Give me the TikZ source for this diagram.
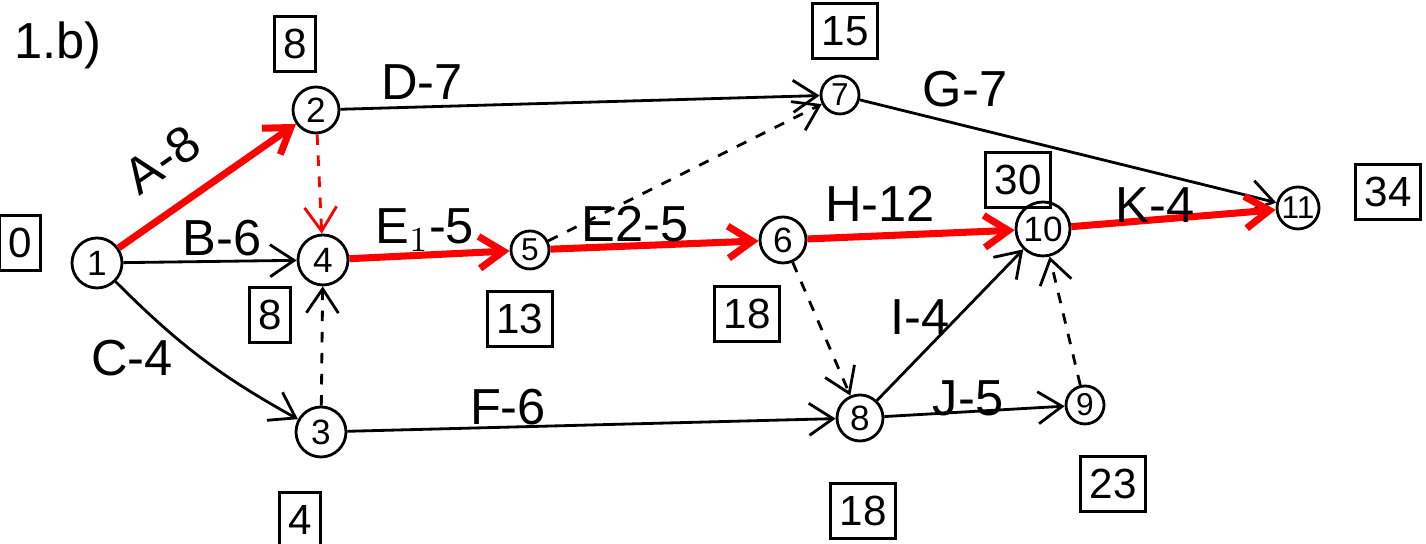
\documentclass[tikz,border=0pt]{standalone}
\usepackage{fontspec}
\setmainfont{Liberation Sans}
\usetikzlibrary{arrows.meta}
\tikzset{
  ev/.style={draw, circle, thick, minimum size=5mm, inner sep=0pt, font=\normalsize},
  evs/.style={ev, minimum size=3.8mm, font=\small},
  tbox/.style={draw, thick, inner sep=2.5pt, minimum height=5.5mm, font=\large},
  act/.style={thick, -{Straight Barb[length=2.4mm,width=3.2mm]}},
  crit/.style={act, red, line width=2pt},
  dum/.style={act, dashed},
  lab/.style={font=\Large}
}
\begin{document}
\begin{tikzpicture}
\useasboundingbox (0,0) rectangle (14.26,5.44);
%結節点
\node[ev] (n1) at (0.97,2.81) {1};
\node[ev, minimum size=4.6mm] (n2) at (3.16,4.34) {2};
\node[ev] (n3) at (3.21,1.12) {3};
\node[ev] (n4) at (3.23,2.84) {4};
\node[evs] (n5) at (5.30,2.94) {5};
\node[ev, minimum size=4.6mm] (n6) at (7.83,3.04) {6};
\node[evs] (n7) at (8.40,4.49) {7};
\node[ev, minimum size=4.6mm] (n8) at (8.60,1.26) {8};
\node[evs] (n9) at (10.85,1.39) {9};
\node[ev, minimum size=5.4mm] (n10) at (10.43,3.15) {10};
\node[evs, minimum size=4.2mm] (n11) at (12.98,3.36) {11};

%時刻
\node[tbox] (b1) at (0.20,3.01) {0};
\node[tbox] (b2) at (2.95,5.00) {8};
\node[tbox] (b4) at (2.70,2.29) {8};
\node[tbox] (b3) at (3.00,0.24) {4};
\node[tbox] (b5) at (5.20,2.25) {13};
\node[tbox] (b6) at (7.47,2.30) {18};
\node[tbox] (b7) at (8.45,5.13) {15};
\node[tbox] (b8) at (8.63,0.33) {18};
\node[tbox] (b9) at (11.13,0.60) {23};
\node[tbox] (b10) at (10.18,3.64) {30};
\node[tbox] (b11) at (13.88,3.52) {34};

%作業
\draw[crit] (n1)--(n2);
\draw[act] (n1)--(n4);
\draw[act] (n1) to[bend right=8] (n3);
\draw[act] (n2)--(n7);
\draw[dum, red] (n2)--(n4);
\draw[dum] (n3)--(n4);
\draw[crit] (n4)--(n5);
\draw[crit] (n5)--(n6);
\draw[dum] (n5)--(n7);
\draw[act] (n7)--(n11);
\draw[crit] (n6)--(n10);
\draw[dum] (n6)--(n8);
\draw[act] (n3)--(n8);
\draw[act] (n8)--(n10);
\draw[act] (n8)--(n9);
\draw[dum] (n9)--(n10);
\draw[crit] (n10)--(n11);

%ラベル
\node[lab] (title) at (0.58,4.99) {1.b)};
\node[lab, rotate=35] (lA) at (1.62,3.84) {A-8};
\node[lab] (lB) at (2.22,3.06) {B-6};
\node[lab] (lC) at (1.32,1.86) {C-4};
\node[lab] (lD) at (4.22,4.62) {D-7};
\node[lab] (lE1) at (4.25,3.14) {E$_1$-5};
\node[lab] (lE2) at (6.35,3.20) {E2-5};
\node[lab] (lF) at (5.08,1.37) {F-6};
\node[lab] (lG) at (9.65,4.55) {G-7};
\node[lab] (lH) at (8.80,3.40) {H-12};
\node[lab] (lI) at (9.20,2.27) {I-4};
\node[lab] (lJ) at (9.68,1.46) {J-5};
\node[lab] (lK) at (11.55,3.39) {K-4};
\end{tikzpicture}
\end{document}
